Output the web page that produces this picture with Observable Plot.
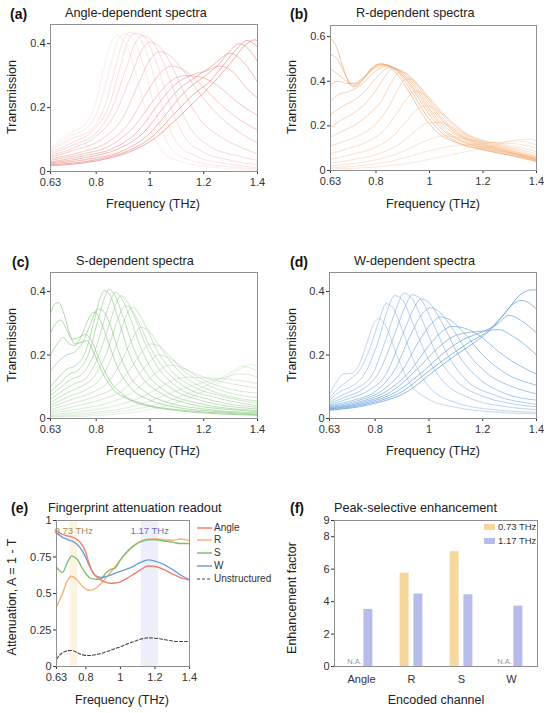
<!DOCTYPE html>
<html><head><meta charset="utf-8">
<script src="https://cdn.jsdelivr.net/npm/d3@7"></script>
<script src="https://cdn.jsdelivr.net/npm/@observablehq/plot@0.6"></script>
<style>
body{margin:0;background:#fff;font-family:"Liberation Sans",Arial,Helvetica,sans-serif;color:#222}
#root{position:relative;width:550px;height:713px;overflow:hidden}
.abs{position:absolute;white-space:nowrap;line-height:1}
</style></head>
<body><div id="root"></div>
<script>
// ---------------- DATA ----------------
const freqTicks = [0.63, 0.8, 1, 1.2, 1.4];
const yTicksA = [0, 0.2, 0.4];
const yTicksB = [0, 0.2, 0.4, 0.6];
const yTicksE = [0, 0.25, 0.5, 0.75, 1];
const yTicksF = [0, 2, 4, 6, 8, 9];

// (a) Angle-dependent spectra: [frequency THz, transmission]
const angleCurves = [
 [[0.63,0.075],[0.70,0.12],[0.76,0.15],[0.80,0.22],[0.83,0.33],[0.86,0.41],[0.88,0.425],[0.91,0.40],[0.95,0.30],[1.0,0.14],[1.05,0.06],[1.12,0.03],[1.25,0.012],[1.4,0.005]],
 [[0.63,0.07],[0.70,0.11],[0.77,0.14],[0.81,0.2],[0.85,0.32],[0.88,0.41],[0.905,0.43],[0.94,0.41],[0.98,0.32],[1.03,0.16],[1.08,0.07],[1.15,0.035],[1.28,0.016],[1.4,0.008]],
 [[0.63,0.065],[0.70,0.10],[0.78,0.13],[0.83,0.2],[0.87,0.32],[0.9,0.41],[0.925,0.435],[0.96,0.42],[1.0,0.34],[1.05,0.19],[1.1,0.09],[1.18,0.045],[1.3,0.022],[1.4,0.012]],
 [[0.63,0.06],[0.71,0.09],[0.79,0.13],[0.85,0.21],[0.89,0.33],[0.92,0.41],[0.945,0.433],[0.98,0.42],[1.02,0.35],[1.07,0.22],[1.12,0.12],[1.2,0.06],[1.3,0.035],[1.4,0.02]],
 [[0.63,0.055],[0.72,0.085],[0.8,0.12],[0.86,0.2],[0.91,0.32],[0.945,0.40],[0.97,0.425],[1.0,0.415],[1.04,0.36],[1.09,0.25],[1.14,0.15],[1.22,0.08],[1.32,0.05],[1.4,0.035]],
 [[0.63,0.05],[0.72,0.075],[0.8,0.11],[0.87,0.18],[0.93,0.3],[0.97,0.38],[1.0,0.405],[1.03,0.395],[1.07,0.35],[1.12,0.26],[1.18,0.17],[1.26,0.11],[1.34,0.075],[1.4,0.055]],
 [[0.63,0.045],[0.73,0.07],[0.82,0.1],[0.9,0.17],[0.96,0.28],[1.0,0.35],[1.035,0.375],[1.07,0.365],[1.12,0.32],[1.18,0.25],[1.25,0.18],[1.32,0.13],[1.4,0.09]],
 [[0.63,0.04],[0.74,0.06],[0.84,0.09],[0.92,0.15],[0.99,0.25],[1.04,0.31],[1.08,0.33],[1.12,0.32],[1.18,0.28],[1.25,0.22],[1.32,0.17],[1.4,0.13]],
 [[0.63,0.035],[0.75,0.055],[0.85,0.08],[0.94,0.14],[1.02,0.23],[1.08,0.285],[1.13,0.3],[1.19,0.295],[1.25,0.27],[1.32,0.22],[1.4,0.175]],
 [[0.63,0.03],[0.76,0.05],[0.87,0.075],[0.96,0.13],[1.03,0.21],[1.09,0.27],[1.15,0.3],[1.21,0.315],[1.26,0.33],[1.31,0.31],[1.36,0.26],[1.4,0.23]],
 [[0.63,0.027],[0.77,0.045],[0.88,0.07],[0.98,0.125],[1.05,0.2],[1.11,0.26],[1.17,0.295],[1.23,0.33],[1.3,0.37],[1.35,0.34],[1.4,0.28]],
 [[0.63,0.024],[0.78,0.04],[0.9,0.065],[1.0,0.12],[1.07,0.19],[1.13,0.25],[1.19,0.29],[1.25,0.33],[1.3,0.38],[1.33,0.40],[1.37,0.38],[1.4,0.345]],
 [[0.63,0.021],[0.8,0.037],[0.92,0.065],[1.01,0.11],[1.09,0.18],[1.16,0.24],[1.22,0.28],[1.28,0.34],[1.33,0.39],[1.36,0.41],[1.4,0.39]],
 [[0.63,0.018],[0.8,0.033],[0.92,0.06],[1.02,0.105],[1.1,0.165],[1.18,0.23],[1.25,0.29],[1.31,0.35],[1.36,0.4],[1.39,0.412],[1.4,0.408]]
];

// (b) R-dependent spectra
const rCurves = [
 [[0.63,0.594],[0.65,0.56],[0.675,0.47],[0.70,0.39],[0.715,0.375],[0.74,0.39],[0.77,0.44],[0.80,0.474],[0.815,0.478],[0.84,0.47],[0.88,0.43],[0.93,0.34],[0.98,0.24],[1.03,0.17],[1.1,0.125],[1.2,0.092],[1.3,0.068],[1.4,0.04]],
 [[0.63,0.52],[0.655,0.5],[0.685,0.43],[0.715,0.38],[0.745,0.40],[0.78,0.45],[0.82,0.478],[0.845,0.472],[0.89,0.43],[0.94,0.34],[0.99,0.245],[1.04,0.175],[1.1,0.13],[1.2,0.095],[1.3,0.07],[1.4,0.043]],
 [[0.63,0.455],[0.66,0.43],[0.69,0.4],[0.72,0.388],[0.75,0.41],[0.79,0.46],[0.825,0.476],[0.85,0.47],[0.9,0.425],[0.95,0.34],[1.0,0.25],[1.05,0.18],[1.12,0.13],[1.22,0.095],[1.32,0.07],[1.4,0.045]],
 [[0.63,0.385],[0.66,0.4],[0.69,0.39],[0.72,0.392],[0.76,0.425],[0.8,0.46],[0.83,0.472],[0.86,0.465],[0.91,0.415],[0.96,0.335],[1.01,0.25],[1.06,0.18],[1.13,0.13],[1.23,0.096],[1.33,0.072],[1.4,0.048]],
 [[0.63,0.31],[0.66,0.34],[0.7,0.355],[0.74,0.38],[0.78,0.425],[0.81,0.455],[0.84,0.468],[0.87,0.46],[0.92,0.41],[0.97,0.33],[1.02,0.245],[1.08,0.175],[1.15,0.128],[1.25,0.095],[1.4,0.05]],
 [[0.63,0.25],[0.67,0.285],[0.71,0.31],[0.75,0.345],[0.79,0.4],[0.82,0.44],[0.85,0.462],[0.88,0.455],[0.93,0.405],[0.98,0.325],[1.03,0.245],[1.09,0.175],[1.16,0.128],[1.26,0.095],[1.4,0.052]],
 [[0.63,0.195],[0.67,0.225],[0.72,0.26],[0.76,0.3],[0.8,0.36],[0.83,0.415],[0.86,0.455],[0.89,0.45],[0.94,0.4],[0.99,0.32],[1.04,0.24],[1.1,0.17],[1.17,0.128],[1.27,0.095],[1.4,0.055]],
 [[0.63,0.15],[0.68,0.18],[0.73,0.21],[0.78,0.26],[0.82,0.31],[0.86,0.40],[0.89,0.442],[0.92,0.43],[0.96,0.38],[1.0,0.315],[1.05,0.235],[1.11,0.168],[1.18,0.128],[1.28,0.096],[1.4,0.058]],
 [[0.63,0.11],[0.69,0.135],[0.75,0.165],[0.8,0.21],[0.85,0.29],[0.88,0.36],[0.905,0.405],[0.93,0.41],[0.96,0.38],[1.01,0.31],[1.06,0.235],[1.12,0.168],[1.19,0.128],[1.29,0.097],[1.4,0.06]],
 [[0.63,0.075],[0.7,0.1],[0.77,0.13],[0.83,0.18],[0.88,0.26],[0.92,0.33],[0.95,0.355],[0.98,0.34],[1.03,0.285],[1.08,0.22],[1.14,0.16],[1.21,0.125],[1.3,0.1],[1.4,0.065]],
 [[0.63,0.05],[0.71,0.072],[0.79,0.1],[0.86,0.15],[0.92,0.23],[0.96,0.28],[0.99,0.29],[1.03,0.27],[1.08,0.22],[1.14,0.165],[1.21,0.13],[1.3,0.105],[1.4,0.075]],
 [[0.63,0.032],[0.72,0.05],[0.81,0.075],[0.89,0.12],[0.95,0.18],[1.0,0.215],[1.04,0.215],[1.09,0.19],[1.15,0.155],[1.22,0.13],[1.31,0.11],[1.4,0.085]],
 [[0.63,0.02],[0.74,0.035],[0.84,0.06],[0.92,0.095],[0.99,0.135],[1.05,0.155],[1.1,0.15],[1.16,0.135],[1.24,0.125],[1.32,0.12],[1.4,0.1]],
 [[0.63,0.012],[0.76,0.024],[0.87,0.045],[0.96,0.075],[1.04,0.1],[1.12,0.115],[1.2,0.12],[1.27,0.128],[1.33,0.132],[1.4,0.115]],
 [[0.63,0.006],[0.8,0.016],[0.92,0.032],[1.02,0.055],[1.12,0.08],[1.2,0.1],[1.27,0.12],[1.33,0.138],[1.37,0.14],[1.4,0.135]]
];

// (c) S-dependent spectra
const sCurves = [
 [[0.63,0.33],[0.645,0.36],[0.66,0.365],[0.68,0.33],[0.7,0.27],[0.72,0.235],[0.745,0.24],[0.765,0.245],[0.79,0.21],[0.82,0.15],[0.86,0.095],[0.92,0.06],[1.0,0.038],[1.1,0.025],[1.25,0.015],[1.4,0.01]],
 [[0.63,0.27],[0.65,0.3],[0.668,0.31],[0.69,0.28],[0.71,0.25],[0.735,0.255],[0.76,0.265],[0.785,0.24],[0.81,0.19],[0.85,0.12],[0.9,0.075],[0.98,0.045],[1.1,0.028],[1.25,0.018],[1.4,0.012]],
 [[0.63,0.2],[0.655,0.235],[0.678,0.255],[0.7,0.235],[0.72,0.23],[0.75,0.27],[0.775,0.32],[0.795,0.335],[0.815,0.31],[0.845,0.24],[0.88,0.16],[0.93,0.095],[1.0,0.058],[1.1,0.035],[1.25,0.022],[1.4,0.014]],
 [[0.63,0.15],[0.66,0.18],[0.69,0.2],[0.72,0.21],[0.75,0.24],[0.78,0.3],[0.805,0.345],[0.825,0.34],[0.85,0.3],[0.88,0.22],[0.92,0.14],[0.98,0.085],[1.06,0.052],[1.2,0.03],[1.4,0.018]],
 [[0.63,0.1],[0.66,0.13],[0.69,0.155],[0.72,0.165],[0.76,0.21],[0.79,0.3],[0.815,0.38],[0.83,0.403],[0.85,0.39],[0.88,0.32],[0.92,0.21],[0.97,0.13],[1.04,0.08],[1.15,0.045],[1.3,0.028],[1.4,0.022]],
 [[0.63,0.085],[0.67,0.115],[0.7,0.14],[0.73,0.15],[0.77,0.2],[0.81,0.32],[0.835,0.39],[0.847,0.408],[0.865,0.395],[0.9,0.32],[0.94,0.22],[0.99,0.14],[1.06,0.085],[1.18,0.048],[1.4,0.025]],
 [[0.63,0.072],[0.67,0.1],[0.71,0.125],[0.74,0.135],[0.79,0.2],[0.83,0.31],[0.855,0.375],[0.87,0.398],[0.89,0.385],[0.925,0.32],[0.965,0.225],[1.01,0.15],[1.08,0.095],[1.2,0.055],[1.4,0.03]],
 [[0.63,0.06],[0.68,0.09],[0.72,0.11],[0.76,0.125],[0.81,0.2],[0.85,0.3],[0.875,0.365],[0.89,0.387],[0.91,0.375],[0.945,0.315],[0.985,0.23],[1.03,0.16],[1.1,0.1],[1.22,0.06],[1.4,0.035]],
 [[0.63,0.05],[0.69,0.08],[0.74,0.1],[0.79,0.13],[0.84,0.21],[0.875,0.3],[0.897,0.345],[0.912,0.355],[0.93,0.345],[0.96,0.3],[1.0,0.225],[1.05,0.16],[1.12,0.105],[1.25,0.065],[1.4,0.04]],
 [[0.63,0.042],[0.7,0.07],[0.76,0.09],[0.82,0.13],[0.87,0.22],[0.905,0.31],[0.925,0.345],[0.937,0.35],[0.955,0.335],[0.99,0.28],[1.03,0.21],[1.08,0.15],[1.15,0.105],[1.27,0.07],[1.4,0.048]],
 [[0.63,0.035],[0.71,0.06],[0.78,0.08],[0.85,0.12],[0.9,0.19],[0.94,0.26],[0.965,0.287],[0.99,0.28],[1.03,0.235],[1.08,0.175],[1.14,0.125],[1.22,0.09],[1.32,0.065],[1.4,0.055]],
 [[0.63,0.028],[0.72,0.05],[0.8,0.07],[0.87,0.1],[0.93,0.16],[0.97,0.21],[1.0,0.235],[1.03,0.23],[1.07,0.2],[1.12,0.155],[1.18,0.12],[1.26,0.09],[1.34,0.072],[1.4,0.065]],
 [[0.63,0.022],[0.73,0.04],[0.82,0.06],[0.9,0.09],[0.96,0.14],[1.0,0.18],[1.03,0.2],[1.06,0.195],[1.1,0.175],[1.16,0.14],[1.23,0.11],[1.31,0.09],[1.4,0.08]],
 [[0.63,0.017],[0.75,0.032],[0.85,0.05],[0.93,0.08],[0.99,0.12],[1.04,0.155],[1.07,0.168],[1.1,0.165],[1.15,0.148],[1.22,0.125],[1.3,0.11],[1.4,0.095]],
 [[0.63,0.012],[0.77,0.025],[0.88,0.042],[0.97,0.068],[1.04,0.1],[1.1,0.125],[1.15,0.13],[1.2,0.128],[1.27,0.125],[1.33,0.12],[1.4,0.11]],
 [[0.63,0.009],[0.8,0.02],[0.92,0.035],[1.01,0.058],[1.09,0.085],[1.16,0.105],[1.22,0.118],[1.28,0.13],[1.33,0.14],[1.37,0.138],[1.4,0.13]],
 [[0.63,0.006],[0.82,0.016],[0.95,0.03],[1.05,0.05],[1.13,0.075],[1.2,0.1],[1.26,0.125],[1.31,0.15],[1.34,0.165],[1.37,0.16],[1.4,0.15]],
 [[0.63,0.004],[0.85,0.012],[0.98,0.025],[1.08,0.045],[1.16,0.07],[1.23,0.1],[1.29,0.13],[1.34,0.158],[1.375,0.17],[1.4,0.165]]
];

// (d) W-dependent spectra
const wCurves = [
 [[0.63,0.075],[0.66,0.12],[0.68,0.14],[0.71,0.142],[0.74,0.17],[0.77,0.24],[0.795,0.3],[0.815,0.315],[0.84,0.29],[0.88,0.2],[0.93,0.11],[1.0,0.06],[1.1,0.035],[1.25,0.02],[1.4,0.015]],
 [[0.63,0.065],[0.67,0.1],[0.7,0.12],[0.74,0.15],[0.78,0.22],[0.815,0.31],[0.84,0.362],[0.865,0.35],[0.9,0.28],[0.95,0.17],[1.0,0.1],[1.1,0.05],[1.25,0.027],[1.4,0.02]],
 [[0.63,0.058],[0.67,0.085],[0.71,0.1],[0.76,0.14],[0.81,0.24],[0.845,0.34],[0.872,0.387],[0.9,0.375],[0.94,0.3],[0.99,0.2],[1.05,0.12],[1.15,0.065],[1.28,0.038],[1.4,0.028]],
 [[0.63,0.052],[0.68,0.075],[0.73,0.095],[0.79,0.14],[0.84,0.25],[0.88,0.35],[0.906,0.395],[0.935,0.38],[0.98,0.3],[1.03,0.2],[1.1,0.12],[1.2,0.07],[1.3,0.048],[1.4,0.037]],
 [[0.63,0.047],[0.69,0.068],[0.75,0.09],[0.81,0.14],[0.87,0.26],[0.91,0.35],[0.937,0.39],[0.97,0.375],[1.01,0.31],[1.07,0.2],[1.14,0.12],[1.24,0.075],[1.4,0.045]],
 [[0.63,0.043],[0.7,0.062],[0.77,0.085],[0.84,0.14],[0.9,0.26],[0.94,0.34],[0.97,0.377],[1.0,0.365],[1.05,0.3],[1.11,0.2],[1.18,0.13],[1.28,0.08],[1.4,0.058]],
 [[0.63,0.04],[0.72,0.058],[0.8,0.085],[0.87,0.15],[0.93,0.26],[0.975,0.33],[1.005,0.349],[1.04,0.335],[1.09,0.28],[1.15,0.2],[1.22,0.14],[1.31,0.1],[1.4,0.078]],
 [[0.63,0.037],[0.73,0.055],[0.82,0.085],[0.9,0.15],[0.96,0.24],[1.01,0.3],[1.042,0.32],[1.08,0.31],[1.13,0.27],[1.2,0.2],[1.28,0.145],[1.4,0.105]],
 [[0.63,0.034],[0.74,0.052],[0.84,0.085],[0.93,0.15],[1.0,0.23],[1.05,0.275],[1.085,0.29],[1.13,0.285],[1.19,0.26],[1.26,0.21],[1.33,0.17],[1.4,0.14]],
 [[0.63,0.032],[0.75,0.05],[0.86,0.085],[0.95,0.15],[1.03,0.22],[1.09,0.258],[1.14,0.27],[1.2,0.275],[1.26,0.28],[1.31,0.26],[1.36,0.23],[1.4,0.2]],
 [[0.63,0.03],[0.76,0.048],[0.88,0.085],[0.98,0.15],[1.06,0.21],[1.13,0.25],[1.19,0.27],[1.25,0.295],[1.3,0.325],[1.34,0.31],[1.4,0.27]],
 [[0.63,0.028],[0.77,0.046],[0.9,0.085],[1.0,0.15],[1.08,0.2],[1.15,0.24],[1.21,0.27],[1.27,0.32],[1.32,0.365],[1.345,0.372],[1.4,0.345]],
 [[0.63,0.026],[0.78,0.044],[0.92,0.085],[1.02,0.15],[1.1,0.2],[1.17,0.24],[1.23,0.28],[1.29,0.34],[1.34,0.39],[1.38,0.405],[1.4,0.405]]
];

// (e) attenuation readout
const eFreq = [0.63,0.665,0.694,0.717,0.75,0.78,0.8,0.82,0.84,0.867,0.89,0.915,0.94,0.97,1.0,1.04,1.08,1.12,1.16,1.2,1.25,1.3,1.35,1.4];
const eAngle = [0.93,0.905,0.895,0.888,0.87,0.83,0.78,0.70,0.645,0.61,0.59,0.577,0.57,0.572,0.58,0.605,0.635,0.665,0.688,0.685,0.665,0.635,0.607,0.592];
const eR     = [0.41,0.5,0.59,0.618,0.59,0.55,0.53,0.522,0.525,0.545,0.57,0.605,0.64,0.685,0.73,0.79,0.83,0.86,0.872,0.875,0.868,0.865,0.873,0.862];
const eS     = [0.68,0.645,0.715,0.758,0.735,0.67,0.635,0.61,0.6,0.598,0.6,0.64,0.662,0.675,0.73,0.785,0.83,0.855,0.868,0.868,0.86,0.852,0.842,0.842];
const eW     = [0.915,0.885,0.87,0.86,0.835,0.79,0.745,0.69,0.645,0.615,0.61,0.615,0.625,0.64,0.652,0.668,0.69,0.715,0.73,0.722,0.7,0.665,0.625,0.595];
const eUnstr = [0.052,0.095,0.108,0.11,0.095,0.08,0.076,0.075,0.077,0.083,0.09,0.1,0.11,0.123,0.135,0.155,0.172,0.188,0.196,0.194,0.185,0.175,0.171,0.171];
const eSeries = ["Angle","R","S","W","Unstructured"];
const bandCenter = [0.73, 1.17];
const bandHalf = [0.022, 0.05];
const bandLabels = ["0.73 THz", "1.17 THz"];

// (f) peak-selective enhancement
const channels = ["Angle","R","S","W"];
const enh073 = [null, 5.75, 7.08, null];
const enh117 = [3.52, 4.47, 4.42, 3.72];
const fLegend = ["0.73 THz", "1.17 THz"];

// ---------------- STYLE / HELPERS ----------------
const FONT = '"Liberation Sans", Arial, Helvetica, sans-serif';
const root = document.getElementById("root");
const fmt = d => String(d);

function put(node, left, top) {
  node.style.position = "absolute";
  node.style.left = left + "px";
  node.style.top = top + "px";
  root.appendChild(node);
}
function txt(s, left, top, size, opts = {}) {
  const d = document.createElement("div");
  d.className = "abs";
  d.textContent = s;
  d.style.fontSize = size + "px";
  if (opts.bold) d.style.fontWeight = "bold";
  if (opts.color) d.style.color = opts.color;
  d.style.left = left + "px";
  d.style.top = top + "px";
  if (opts.center) d.style.transform = "translate(-50%,-50%)";
  if (opts.rotate) d.style.transform = "translate(-50%,-50%) rotate(-90deg)";
  root.appendChild(d);
}
const baseStyle = {fontFamily: FONT, fontSize: "11px", color: "#333", background: "transparent", overflow: "visible"};
function ramp(n, lo, hi) { return Array.from({length: n}, (_, i) => lo + (hi - lo) * i / (n - 1)); }

function spectra(curves, color, ops, yMax, yTicks, m) {
  return Plot.plot({
    width: 275, height: 230,
    marginLeft: m.l, marginRight: m.r, marginTop: m.t, marginBottom: m.b,
    style: baseStyle,
    x: {domain: [0.63, 1.4], ticks: freqTicks, tickFormat: fmt, tickSize: 3, tickPadding: 4, label: null},
    y: {domain: [0, yMax], ticks: yTicks, tickFormat: fmt, tickSize: 3, tickPadding: 2, label: null},
    marks: [
      ...curves.map((c, i) => Plot.line(c, {x: d => d[0], y: d => d[1], stroke: color, strokeOpacity: ops[i], strokeWidth: 1, curve: "monotone-x"})),
      Plot.frame({stroke: "#8f8f8f"})
    ]
  });
}

// ---------------- PANELS a-d ----------------
put(spectra(angleCurves, "#e8766f", ramp(angleCurves.length, 0.12, 0.62), 0.46, yTicksA, {l: 50, r: 18, t: 24, b: 59}), 0, 0);
put(spectra(rCurves, "#f0a466", ramp(rCurves.length, 0.62, 0.25), 0.65, yTicksB, {l: 55, r: 14, t: 25, b: 60}), 275, 0);
put(spectra(sCurves, "#7cc172", ramp(sCurves.length, 0.62, 0.22), 0.46, yTicksA, {l: 50, r: 18, t: 42, b: 42}), 0, 230);
put(spectra(wCurves, "#5e9bd3", ramp(wCurves.length, 0.38, 0.72), 0.46, yTicksA, {l: 54, r: 14, t: 42, b: 42}), 275, 230);

// ---------------- PANEL e ----------------
const eColors = {Angle: "#ef7f72", R: "#f6b27c", S: "#82bf6e", W: "#6b9ed8", Unstructured: "#444"};
const eVals = {Angle: eAngle, R: eR, S: eS, W: eW, Unstructured: eUnstr};
const bands = bandCenter.map((c, i) => ({x1: c - bandHalf[i], x2: c + bandHalf[i], c, label: bandLabels[i], fill: i === 0 ? "#fdf3e3" : "#edf0fa", tc: i === 0 ? "#a28c55" : "#6a70b4"}));
const eRows = s => eFreq.map((f, i) => ({f, v: eVals[s][i]}));
put(Plot.plot({
  width: 275, height: 243,
  marginLeft: 56, marginRight: 86, marginTop: 50, marginBottom: 47,
  style: baseStyle,
  x: {domain: [0.63, 1.4], ticks: freqTicks, tickFormat: fmt, tickSize: 3, tickPadding: 4, label: null},
  y: {domain: [0, 1], ticks: yTicksE, tickFormat: fmt, tickSize: 3, tickPadding: 2, label: null},
  marks: [
    Plot.rect(bands, {x1: "x1", x2: "x2", y1: 0, y2: 1, fill: d => d.fill}),
    Plot.line(eRows("Unstructured"), {x: "f", y: "v", stroke: eColors.Unstructured, strokeWidth: 1.1, strokeDasharray: "3,2", curve: "monotone-x"}),
    Plot.line(eRows("R"), {x: "f", y: "v", stroke: eColors.R, strokeWidth: 1.4, curve: "monotone-x"}),
    Plot.line(eRows("S"), {x: "f", y: "v", stroke: eColors.S, strokeWidth: 1.4, curve: "monotone-x"}),
    Plot.line(eRows("W"), {x: "f", y: "v", stroke: eColors.W, strokeWidth: 1.4, curve: "monotone-x"}),
    Plot.line(eRows("Angle"), {x: "f", y: "v", stroke: eColors.Angle, strokeWidth: 1.4, curve: "monotone-x"}),
    Plot.text(bands, {x: "c", y: 0.93, text: "label", fill: d => d.tc, fontSize: 9.5}),
    Plot.frame({stroke: "#8f8f8f"})
  ]
}), 0, 470);

// legend e
eSeries.forEach((s, i) => {
  const ns = "http://www.w3.org/2000/svg";
  const sv = document.createElementNS(ns, "svg");
  sv.setAttribute("width", 16); sv.setAttribute("height", 6);
  const ln = document.createElementNS(ns, "line");
  ln.setAttribute("x1", 0); ln.setAttribute("x2", 15); ln.setAttribute("y1", 3); ln.setAttribute("y2", 3);
  ln.setAttribute("stroke", eColors[s]); ln.setAttribute("stroke-width", s === "Unstructured" ? 1.2 : 1.5);
  if (s === "Unstructured") ln.setAttribute("stroke-dasharray", "3,2");
  sv.appendChild(ln);
  put(sv, 197, 524.7 + i * 12.75);
  txt(s, 214, 522.7 + i * 12.75, 10, {color: "#333"});
});

// ---------------- PANEL f ----------------
const fColors = ["#f7d89c", "#b7bcea"];
const rows073 = channels.map((c, i) => ({c, v: enh073[i]})).filter(d => d.v != null);
const rows117 = channels.map((c, i) => ({c, v: enh117[i]}));
const rowsNA = channels.map((c, i) => ({c, v: enh073[i]})).filter(d => d.v == null);
put(Plot.plot({
  width: 275, height: 243,
  marginLeft: 59, marginRight: 13, marginTop: 50, marginBottom: 47,
  style: baseStyle,
  x: {domain: channels, paddingInner: 0, paddingOuter: 0.02, tickSize: 0, tickPadding: 9, label: null},
  y: {domain: [0, 9], ticks: yTicksF, tickFormat: fmt, tickSize: 3, tickPadding: 2, label: null},
  marks: [
    Plot.barY(rows073, {x: "c", y: "v", fill: fColors[0], insetLeft: 13.6, insetRight: 27.4}),
    Plot.barY(rows117, {x: "c", y: "v", fill: fColors[1], insetLeft: 27.4, insetRight: 13.6}),
    Plot.text(rowsNA, {x: "c", y: 0, text: () => "N.A.", dx: -7, dy: -5, fontSize: 7.5, fill: "#999"}),
    Plot.frame({stroke: "#8f8f8f"})
  ]
}), 275, 470);
fLegend.forEach((s, i) => {
  const sw = document.createElement("div");
  sw.style.cssText = `width:11px;height:6px;background:${fColors[i]}`;
  put(sw, 484, 524 + i * 13.7);
  txt(s, 498, 522 + i * 13.7, 9.5, {color: "#333"});
});

// ---------------- TEXT ----------------
const panelLetters = [["(a)", 10, 6.6], ["(b)", 290, 6.6], ["(c)", 12, 254.5], ["(d)", 290, 254.5], ["(e)", 11, 501], ["(f)", 290, 501]];
panelLetters.forEach(([s, x, y]) => txt(s, x, y, 14, {bold: true, color: "#111"}));
const titles = [["Angle-dependent spectra", 65, 7], ["R-dependent spectra", 356, 7], ["S-dependent spectra", 76, 255], ["W-dependent spectra", 354, 255], ["Fingerprint attenuation readout", 48, 501.5], ["Peak-selective enhancement", 334, 501.5]];
titles.forEach(([s, x, y]) => txt(s, x, y, 12.7, {color: "#222"}));
const xLabels = [["Frequency (THz)", 153, 204], ["Frequency (THz)", 433, 204], ["Frequency (THz)", 153, 451], ["Frequency (THz)", 433, 451], ["Frequency (THz)", 122, 700], ["Encoded channel", 436, 700]];
xLabels.forEach(([s, x, y]) => txt(s, x, y, 12.5, {center: true, color: "#222"}));
const yLabels = [["Transmission", 12, 97], ["Transmission", 292, 97], ["Transmission", 12, 345], ["Transmission", 292, 345], ["Attenuation, A = 1 - T", 12, 597], ["Enhancement factor", 292, 598]];
yLabels.forEach(([s, x, y]) => txt(s, x, y, 12.5, {rotate: true, color: "#222"}));
</script>
</body></html>
